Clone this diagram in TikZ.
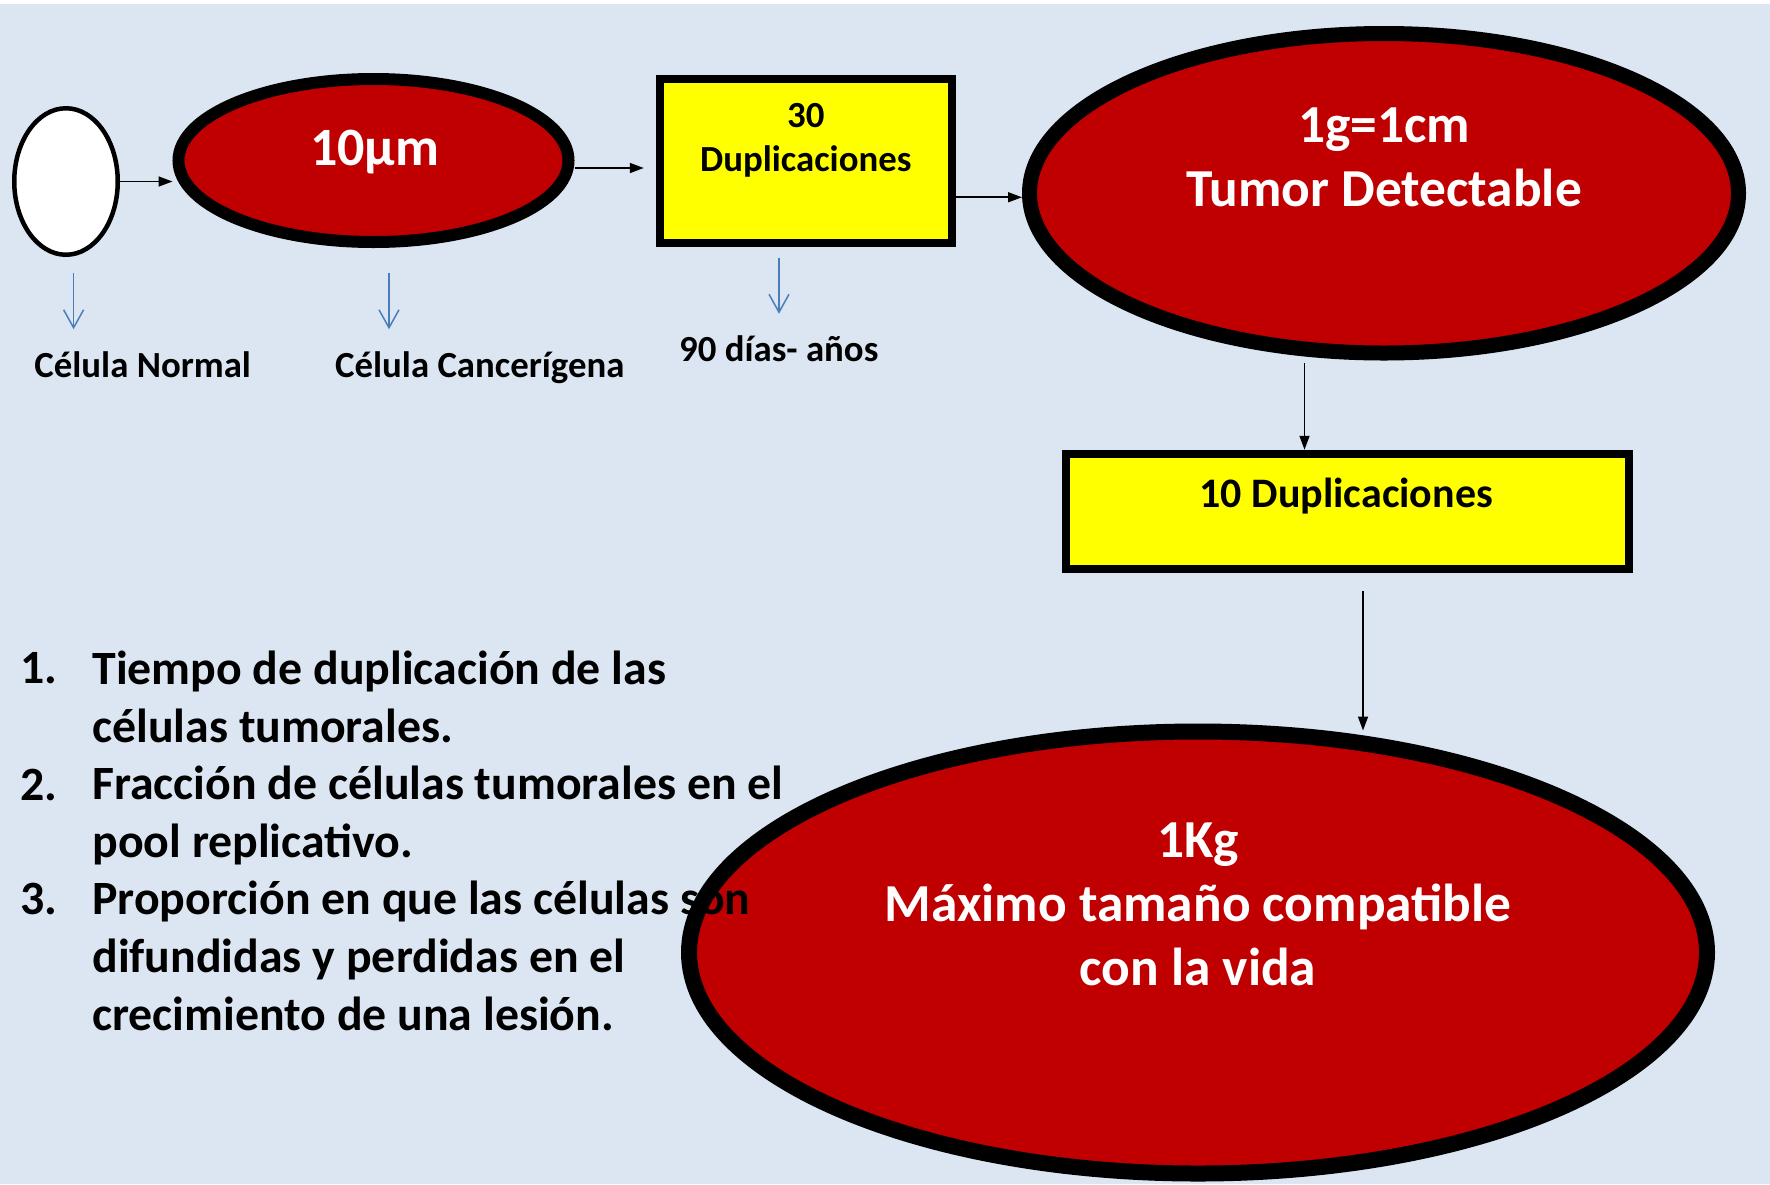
\documentclass[tikz,border=0pt]{standalone}
\usepackage{fontspec}
\setmainfont{Carlito}
\usetikzlibrary{shapes.geometric,arrows.meta,positioning}
\definecolor{fondo}{RGB}{220,230,242}
\definecolor{rojo}{RGB}{192,0,0}
\definecolor{amarillo}{RGB}{255,255,0}
\definecolor{azul}{RGB}{74,126,187}
\tikzset{
  celula/.style={ellipse, draw=black, fill=rojo},
  caja/.style={rectangle, draw=black, fill=amarillo, line width=4pt},
  flecha/.style={-{Triangle[length=7pt,width=5pt]}, line width=0.8pt},
  guia/.style={-{Straight Barb[length=9pt,width=10pt]}, azul, line width=0.75pt},
  etiqueta/.style={inner sep=0pt, anchor=base, font=\bfseries\fontsize{18.4}{22}\selectfont},
  blanco/.style={inner sep=0pt, anchor=base, text=white, align=center, font=\bfseries\fontsize{26.7}{32}\selectfont},
  lista/.style={inner sep=0pt, anchor=base west, align=left, font=\bfseries\fontsize{23.9}{28.85}\selectfont},
}
\begin{document}
\begin{tikzpicture}[x=0.5pt,y=-0.5pt]
  \fill[white] (0,0) rectangle (1770,1184);
  \fill[fondo] (0,4) rectangle (1770,1184);
  \useasboundingbox (0,0) rectangle (1770,1184);

  % celulas y cajas
  \node[ellipse, draw=black, fill=white, line width=2.25pt, minimum width=51.75pt, minimum height=73.25pt] (normal) at (66,181.5) {};
  \node[celula, line width=6pt, minimum width=195pt, minimum height=81.5pt] (cancer) at (373.5,160.5) {};
  \node[caja, minimum width=146pt, minimum height=82pt] (dup30) at (805.8,160.7) {};
  \node[celula, line width=7.5pt, minimum width=354.5pt, minimum height=159.75pt] (tumor) at (1384,193.25) {};
  \node[caja, minimum width=281.5pt, minimum height=57.5pt] (dup10) at (1347,511.25) {};
  \node[celula, line width=8pt, minimum width=509pt, minimum height=221pt] (maximo) at (1198,952.5) {};

  % textos (anchor=base es la ultima linea)
  \node[blanco, font=\bfseries\fontsize{27}{32}\selectfont] (t10) at (374.6,165) {10µm};
  \node[blanco] (ttumor) at (1384,206.6) {1g=1cm\\Tumor Detectable};
  \node[blanco] (tmax) at (1198,985.7) {1Kg\\Máximo tamaño compatible\\con la vida};
  \node[etiqueta, align=center] (t30) at (805.8,171.4) {30\\Duplicaciones};
  \node[etiqueta, font=\bfseries\fontsize{21}{25}\selectfont] (tdup10) at (1346.25,507) {10 Duplicaciones};
  \node[etiqueta] (lnormal) at (142.7,377) {Célula Normal};
  \node[etiqueta] (lcancer) at (479.8,377) {Célula Cancerígena};
  \node[etiqueta] (ldias) at (778.75,361.6) {90 días- años};

  % flechas
  \draw[flecha] (normal.east) -- (normal.east -| cancer.west);
  \coordinate (s2) at ([yshift=-3.75pt]cancer.east);
  \draw[flecha, shorten >=6pt] (s2) -- (s2 -| dup30.west);
  \coordinate (s3) at ([yshift=-2pt]tumor.west);
  \draw[flecha] (s3 -| dup30.east) -- (s3);
  \coordinate (s4) at (1304.5,363);
  \draw[flecha] (s4) -- (s4 |- dup10.north);
  \coordinate (s5) at (1363,591);
  \draw[flecha] (s5) -- ([yshift=-3.5pt]s5 |- maximo.north);
  \foreach \x/\y [count=\i] in {73.6/273, 389/273, 779/257.5}
    \draw[guia] (\x,\y) coordinate (g\i) -- ++(0,56.3);

  % lista
  \node[lista] (n1) at (20,683.8) {1.};
  \node[lista] (i1) at (92,742.6) {Tiempo de duplicación de las\\células tumorales.};
  \node[lista] (n2) at (20,800.4) {2.};
  \node[lista] (i2) at (92,857) {Fracción de células tumorales en el\\pool replicativo.};
  \node[lista] (n3) at (20,914.7) {3.};
  \node[lista] (i3) at (92,1030) {Proporción en que las células son\\difundidas y perdidas en el\\crecimiento de una lesión.};
\end{tikzpicture}
\end{document}
